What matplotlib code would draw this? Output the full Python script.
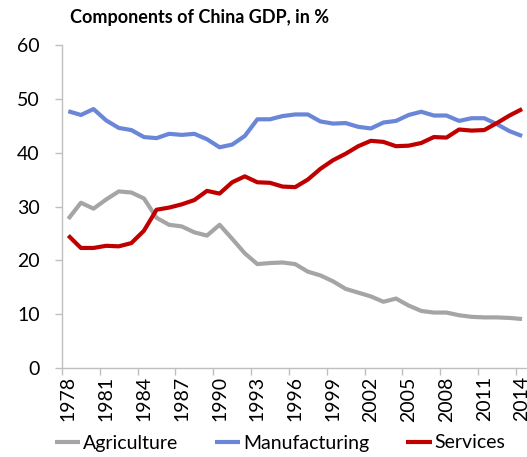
import matplotlib
matplotlib.use("Agg")
import matplotlib.pyplot as plt
import numpy as np

plt.rcParams['font.family'] = ['Lato', 'DejaVu Sans']

years = list(range(1978, 2015))
agriculture = [27.7, 30.7, 29.6, 31.3, 32.8, 32.6, 31.5, 27.9, 26.6, 26.3, 25.2, 24.6, 26.6, 24.0,
               21.3, 19.3, 19.5, 19.6, 19.3, 17.9, 17.2, 16.1, 14.7, 14.0, 13.3, 12.3, 12.9, 11.6,
               10.6, 10.3, 10.3, 9.8, 9.5, 9.4, 9.4, 9.3, 9.1]
manufacturing = [47.7, 47.0, 48.1, 46.0, 44.6, 44.2, 42.9, 42.7, 43.5, 43.3, 43.5, 42.5, 41.0, 41.5,
                 43.1, 46.2, 46.2, 46.8, 47.1, 47.1, 45.8, 45.4, 45.5, 44.8, 44.5, 45.6, 45.9, 47.0,
                 47.6, 46.9, 46.9, 45.9, 46.4, 46.4, 45.3, 44.0, 43.1]
services = [24.6, 22.3, 22.3, 22.7, 22.6, 23.2, 25.5, 29.4, 29.8, 30.4, 31.2, 32.9, 32.4, 34.5,
            35.6, 34.5, 34.4, 33.7, 33.6, 35.0, 37.0, 38.6, 39.8, 41.2, 42.2, 42.0, 41.2, 41.3,
            41.8, 42.9, 42.8, 44.3, 44.1, 44.2, 45.5, 46.9, 48.1]
series_names = ['Agriculture', 'Manufacturing', 'Services']
label_years = list(range(1978, 2015, 3))
y_ticks = [0, 10, 20, 30, 40, 50, 60]

W, H = 527, 457
fig = plt.figure(figsize=(W / 100, H / 100), dpi=100)
left, right, top, bottom = 62, 541, 45, 368
ax = fig.add_axes([left / W, 1 - bottom / H, (right - left) / W, (bottom - top) / H])

colors = ['#A5A5A5', '#6A86D8', '#C00000']
for vals, c, name in zip([agriculture, manufacturing, services], colors, series_names):
    ax.plot(years, vals, color=c, lw=3.0, label=name, solid_joinstyle='round', solid_capstyle='butt')

ax.set_xlim(1977.5, 2015.5)
ax.set_ylim(0, 60)

ax.set_yticks(y_ticks)
ax.set_yticklabels([str(v) for v in y_ticks], fontsize=14)
ax.tick_params(axis='y', length=5, width=1, color='#BFBFBF', pad=11)

ax.set_xticks(np.arange(1977.5, 2016, 3))
ax.set_xticklabels([])
ax.tick_params(axis='x', which='major', length=5, width=1, color='#BFBFBF')
ax.set_xticks(label_years, minor=True)
ax.set_xticklabels([str(y) for y in label_years], minor=True, rotation=90, fontsize=14)
ax.tick_params(axis='x', which='minor', length=0, pad=6)

for s in ['top', 'right']:
    ax.spines[s].set_visible(False)
for s in ['left', 'bottom']:
    ax.spines[s].set_color('#BFBFBF')
    ax.spines[s].set_linewidth(1)

fig.text(70 / W, 1 - 17 / H, 'Components of China GDP, in %', fontsize=13, fontweight='bold',
         va='center', ha='left')

fig.legend(loc='center', bbox_to_anchor=(280 / W, 1 - 443 / H), ncol=3, frameon=False,
           fontsize=14, handlelength=1.3, handletextpad=0.15, columnspacing=1.9,
           borderaxespad=0, borderpad=0)

fig.savefig('out.png', dpi=100)
